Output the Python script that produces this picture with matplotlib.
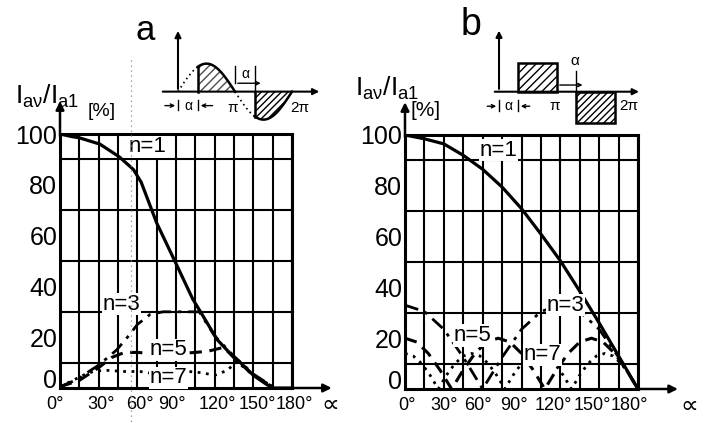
import matplotlib
matplotlib.use("Agg")
import matplotlib.pyplot as plt
from matplotlib.lines import Line2D
import numpy as np

plt.rcParams['font.family'] = ['Liberation Sans', 'DejaVu Sans']
plt.rcParams['mathtext.fontset'] = 'custom'
plt.rcParams['mathtext.rm'] = 'Liberation Sans'
plt.rcParams['mathtext.it'] = 'Liberation Sans'

# ---- panel a: phase controlled sine, harmonic content in % ----
a_n1_x = [0, 9, 15, 31, 46, 57, 63, 75, 90, 103, 109, 122, 135, 140, 150, 160, 165, 180]
a_n1_y = [100, 99, 98.5, 96, 91, 86, 81, 65, 49, 35, 30, 19, 12, 10, 5, 1.5, 0, 0]
a_n3_x = [0, 14, 23, 30, 44, 54, 60, 70, 80, 90, 100, 108, 120, 135, 150, 165]
a_n3_y = [0.5, 3.5, 6.7, 9, 15, 21, 25, 29, 30, 30, 30, 30, 20.5, 12.5, 5.5, 0.5]
a_n5_x = [0, 15, 30, 40, 50, 60, 75, 90, 105, 115, 127, 135, 150, 165]
a_n5_y = [0.5, 3, 8, 12, 14, 14, 13.5, 13.5, 14, 14.5, 16, 12, 5, 0.5]
a_n7_x = [0, 10, 20, 26, 35, 50, 62, 75, 90, 100, 110, 120, 130, 137, 150, 165]
a_n7_y = [0.5, 3, 5.5, 6.5, 7, 6.5, 6.5, 5.5, 5.5, 6.5, 6, 5, 7, 10.5, 5, 0.5]

# ---- panel b: rectangular block with gap alpha ----
b_n1_x = [0, 15, 30, 45, 60, 75, 90, 105, 120, 135, 150, 165, 180]
b_n1_y = [100, 98.5, 96.5, 92, 86.5, 79.5, 71, 61, 50.5, 38.5, 26, 13, 0]
b_n3_x = [0, 15, 30, 45, 60, 75, 90, 105, 120, 135, 150, 165, 180]
b_n3_y = [33, 30.5, 23.5, 12.5, 0, 12.5, 23.5, 30.5, 33, 30.5, 23.5, 12.5, 0]
b_n5_x = [0, 9, 18, 27, 36, 45, 54, 63, 72, 81, 90, 99, 108, 117, 126, 135, 144, 153, 162, 171, 180]
b_n5_y = [20, 18.5, 14, 7.5, 0, 7.5, 14, 18.5, 20, 18.5, 14, 7.5, 0, 7.5, 14, 18.5, 20, 18.5, 14, 7.5, 0]
b_n7_x = [0, 6.4, 12.9, 19.3, 25.7, 32.1, 38.6, 45, 51.4, 57.9, 64.3, 70.7, 77.1, 83.6, 90,
          96.4, 102.9, 109.3, 115.7, 122.1, 128.6, 135, 141.4, 147.9, 154.3, 160.7, 167.1, 173.6, 180]
b_n7_y = [14, 13, 10, 5.5, 0, 5.5, 10, 13, 14, 13, 10, 5.5, 0, 5.5, 10,
          13, 14, 13, 10, 5.5, 0, 5.5, 10, 13, 14, 13, 10, 5.5, 0]

y_ticks = [0, 20, 40, 60, 80, 100]
x_labels = ["0°", "30°", "60°", "90°", "120°", "150°", "180°"]
a_label_pos = [-4, 32, 62, 87, 122, 153, 182]
b_label_pos = [1.5, 30, 56, 84, 115, 145, 173]

a_curve_labels = [("n=1", 68, 95), ("n=3", 48, 33), ("n=5", 84, 15), ("n=7", 84, 4)]
b_curve_labels = [("n=1", 72, 94), ("n=3", 124, 33), ("n=5", 52, 21), ("n=7", 106, 13.5)]

W, H = 704, 423
fig = plt.figure(figsize=(W / 100, H / 100), dpi=100)


def px(x0, y0, x1, y1):
    # pixel box -> figure fraction rect
    return [x0 / W, 1 - y1 / H, (x1 - x0) / W, (y1 - y0) / H]


styles = {
    "n1": dict(color="black", lw=2.3, ls="-"),
    "n3": dict(color="black", lw=2.0, ls=(0, (5, 2.5, 1.2, 2.5))),
    "n5": dict(color="black", lw=2.2, ls=(0, (4, 2.5))),
    "n7": dict(color="black", lw=2.0, ls=(0, (1, 2))),
}


def setup_panel(ax, label_pos, curve_labels, arrow_x, alpha_x):
    ax.set_xlim(0, 180)
    ax.set_ylim(0, 100)
    ax.set_xticks(np.arange(0, 181, 15), minor=True)
    ax.set_yticks(np.arange(0, 101, 10), minor=True)
    ax.grid(which="minor", color="black", lw=1.5)
    ax.set_xticks([])
    ax.set_yticks(y_ticks)
    ax.set_yticklabels([str(v) for v in y_ticks], fontsize=18)
    ax.get_yticklabels()[0].set_verticalalignment("baseline")
    ax.tick_params(axis="y", which="both", length=0, pad=2)
    ax.tick_params(axis="x", which="both", length=0)
    for s in ax.spines.values():
        s.set_linewidth(2.2)
    for lab, xp in zip(x_labels, label_pos):
        ax.text(xp, -0.03, lab, transform=ax.get_xaxis_transform(), ha="center",
                va="top", fontsize=13, clip_on=False)
    ax.text(alpha_x, -0.02, "∝", transform=ax.get_xaxis_transform(),
            ha="center", va="top", fontsize=18, clip_on=False)
    ax.annotate("", xy=(arrow_x, 0), xytext=(178, 0), annotation_clip=False,
                arrowprops=dict(arrowstyle="-|>", color="black", lw=1.8, mutation_scale=12))
    ax.annotate("", xy=(0, 114), xytext=(0, 98), annotation_clip=False,
                arrowprops=dict(arrowstyle="-|>", color="black", lw=1.8, mutation_scale=12))
    for txt, xx, yy in curve_labels:
        ax.text(xx, yy, txt, ha="center", va="center", fontsize=16, zorder=5,
                bbox=dict(facecolor="white", edgecolor="none", pad=0.5))


# panel a
ax1 = fig.add_axes(px(60, 134, 292, 388))
ax1.plot(a_n1_x, a_n1_y, **styles["n1"], zorder=4)
ax1.plot(a_n3_x, a_n3_y, **styles["n3"], zorder=3)
ax1.plot(a_n5_x, a_n5_y, **styles["n5"], zorder=3)
ax1.plot(a_n7_x, a_n7_y, **styles["n7"], zorder=3)
setup_panel(ax1, a_label_pos, a_curve_labels, 213, 210)

# panel b
ax2 = fig.add_axes(px(405, 135, 638, 389))
ax2.plot(b_n1_x, b_n1_y, **styles["n1"], zorder=4)
ax2.plot(b_n3_x, b_n3_y, **styles["n3"], zorder=3)
ax2.plot(b_n5_x, b_n5_y, **styles["n5"], zorder=3)
ax2.plot(b_n7_x, b_n7_y, **styles["n7"], zorder=3)
setup_panel(ax2, b_label_pos, b_curve_labels, 213, 220)

# axis titles
fig.text(15 / W, 1 - 96 / H, r"$\mathregular{I_{a\nu}/I_{a1}}$", fontsize=19, ha="left", va="center")
fig.text(88 / W, 1 - 112 / H, "[%]", fontsize=14, ha="left", va="center")
fig.text(355 / W, 1 - 88 / H, r"$\mathregular{I_{a\nu}/I_{a1}}$", fontsize=19, ha="left", va="center")
fig.text(410 / W, 1 - 110 / H, "[%]", fontsize=15, ha="left", va="center")

fig.text(145 / W, 1 - 30 / H, "a", fontsize=25, ha="center", va="center")
fig.text(471 / W, 1 - 25 / H, "b", fontsize=27, ha="center", va="center")

# scan mark
fig.add_artist(Line2D([131 / W, 131 / W], [1 - 60 / H, 0], transform=fig.transFigure,
                      color="0.55", ls=(0, (1, 3)), lw=0.9))

arr = dict(arrowstyle="-|>", color="black", lw=1.5, mutation_scale=9)
small = dict(arrowstyle="->", color="black", lw=1.0, mutation_scale=6)

# inset a: phase cut sine
ins1 = fig.add_axes(px(155, 20, 330, 128))
ins1.set_xlim(-72.6, 480)
ins1.set_ylim(-1.3, 2.56)
ins1.axis("off")
alpha_a = 63
ins1.annotate("", xy=(455, 0), xytext=(-57, 0), arrowprops=arr)
ins1.annotate("", xy=(0, 2.27), xytext=(0, 0), arrowprops=arr)
th = np.linspace(0, 360, 361)
sv = np.sin(np.radians(th))
on1 = (th >= alpha_a) & (th <= 180)
on2 = th >= 180 + alpha_a
off1 = th <= alpha_a
off2 = (th >= 180) & (th <= 180 + alpha_a)
ins1.plot(th[off1], sv[off1], color="black", lw=1.2, ls=(0, (1, 2)))
ins1.plot(th[off2], sv[off2], color="black", lw=1.2, ls=(0, (1, 2)))
ins1.plot(th[on1], sv[on1], color="black", lw=1.8)
ins1.plot(th[on2], sv[on2], color="black", lw=1.8)
ins1.fill_between(th[on1], 0, sv[on1], facecolor="white", edgecolor="0.3", hatch="////", lw=0)
ins1.fill_between(th[on2], 0, sv[on2], facecolor="white", edgecolor="black", hatch="/////", lw=0)
ins1.plot([alpha_a, alpha_a], [0, np.sin(np.radians(alpha_a))], color="black", lw=1.8)
ins1.plot([180 + alpha_a] * 2, [0, -np.sin(np.radians(alpha_a))], color="black", lw=1.8)
ins1.plot([0, 0], [-0.3, -0.65], color="black", lw=1.0)
ins1.plot([alpha_a] * 2, [-0.3, -0.65], color="black", lw=1.0)
ins1.annotate("", xy=(0, -0.5), xytext=(-50, -0.5), arrowprops=small)
ins1.annotate("", xy=(alpha_a, -0.5), xytext=(alpha_a + 55, -0.5), arrowprops=small)
ins1.text(alpha_a / 2, -0.5, "α", ha="center", va="center", fontsize=10)
ins1.text(172, -0.6, "π", ha="center", va="center", fontsize=11)
ins1.text(385, -0.6, "2π", ha="center", va="center", fontsize=11)
ins1.plot([180 + alpha_a] * 2, [-0.1, 0.9], color="black", lw=1.0)
ins1.plot([180, 180], [0.3, 0.9], color="black", lw=1.0)
ins1.annotate("", xy=(270, 0.3), xytext=(180, 0.3), arrowprops=small)
ins1.text(180 + alpha_a / 2, 0.62, "α", ha="center", va="center", fontsize=10)

# inset b: rectangular block
ins2 = fig.add_axes(px(480, 20, 650, 128))
ins2.set_xlim(-59, 468.6)
ins2.set_ylim(-1.25, 2.47)
ins2.axis("off")
alpha_b = 59
ins2.annotate("", xy=(443, 0), xytext=(-22, 0), arrowprops=arr)
ins2.annotate("", xy=(0, 2.2), xytext=(0, 0), arrowprops=arr)
ins2.bar([(alpha_b + 180) / 2], [1.0], width=180 - alpha_b, facecolor="white",
         edgecolor="black", hatch="////", lw=1.8)
ins2.bar([(180 + alpha_b + 360) / 2], [-1.07], width=180 - alpha_b, facecolor="white",
         edgecolor="black", hatch="/////", lw=1.8)
ins2.plot([0, 0], [-0.3, -0.65], color="black", lw=1.0)
ins2.plot([alpha_b] * 2, [-0.3, -0.65], color="black", lw=1.0)
ins2.annotate("", xy=(0, -0.5), xytext=(-45, -0.5), arrowprops=small)
ins2.annotate("", xy=(alpha_b, -0.5), xytext=(alpha_b + 45, -0.5), arrowprops=small)
ins2.text(alpha_b / 2, -0.5, "α", ha="center", va="center", fontsize=10)
ins2.text(172, -0.5, "π", ha="center", va="center", fontsize=11)
ins2.text(403, -0.5, "2π", ha="center", va="center", fontsize=11)
ins2.plot([180 + alpha_b] * 2, [-0.2, 0.7], color="black", lw=1.0)
ins2.annotate("", xy=(268, 0.23), xytext=(180, 0.23), arrowprops=small)
ins2.text(234, 1.05, "α", ha="center", va="center", fontsize=11)

fig.savefig("out.png", dpi=100)
